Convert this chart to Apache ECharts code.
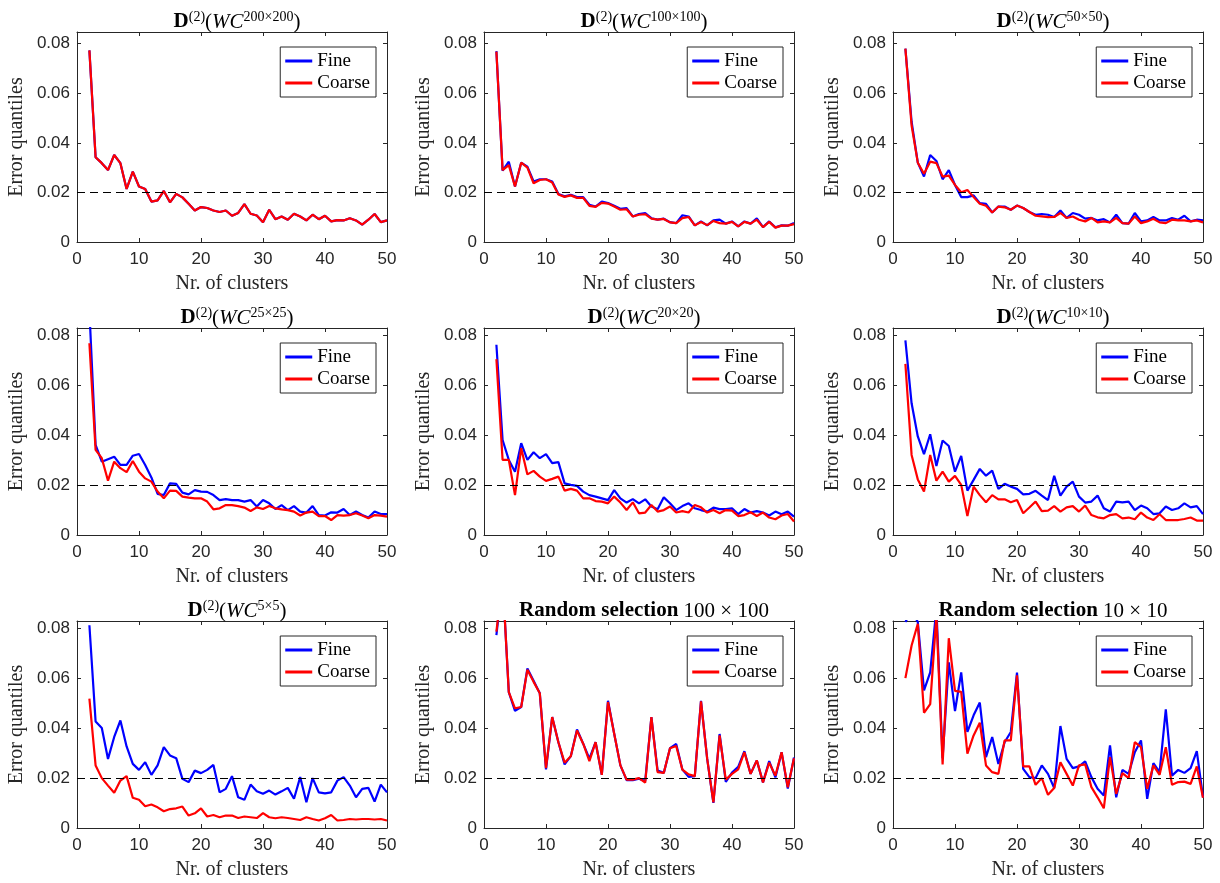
<!DOCTYPE html>
<html lang="en">

<head>
    <meta charset="UTF-8">
    <script src="https://cdn.jsdelivr.net/npm/echarts@6/dist/echarts.min.js"></script>
    <title>Error quantiles</title>
    <style>
        body { margin: 0; background: #fff; }
    </style>
</head>

<body>
    <div id="main" style="width: 1220px; height: 883px;"></div>

    <script>
        // number of clusters
        var clusters = [2, 3, 4, 5, 6, 7, 8, 9, 10, 11, 12, 13, 14, 15, 16, 17, 18, 19, 20, 21, 22, 23, 24, 25, 26,
            27, 28, 29, 30, 31, 32, 33, 34, 35, 36, 37, 38, 39, 40, 41, 42, 43, 44, 45, 46, 47, 48, 49, 50];

        var threshold = 0.0205;

        var wc200Fine = [0.0773, 0.0342, 0.0318, 0.029, 0.0351, 0.0318, 0.0214, 0.0284, 0.0224, 0.0214, 0.0163, 0.0168, 0.0206, 0.016, 0.0194, 0.018, 0.0154, 0.0127, 0.0141, 0.0137, 0.0127, 0.0121, 0.0127, 0.0106, 0.0117, 0.0153, 0.0114, 0.0107, 0.008, 0.013, 0.0092, 0.0103, 0.009, 0.0114, 0.0103, 0.0087, 0.011, 0.0092, 0.0106, 0.0083, 0.0088, 0.0087, 0.0096, 0.0087, 0.007, 0.009, 0.0113, 0.008, 0.0087];
        var wc200Coarse = [0.0773, 0.0342, 0.0318, 0.029, 0.0351, 0.0318, 0.0214, 0.0284, 0.0224, 0.0214, 0.0163, 0.0168, 0.0206, 0.016, 0.0194, 0.018, 0.0154, 0.0127, 0.0141, 0.0137, 0.0127, 0.0121, 0.0127, 0.0106, 0.0117, 0.0153, 0.0114, 0.0107, 0.008, 0.013, 0.0092, 0.0103, 0.009, 0.0114, 0.0103, 0.0087, 0.011, 0.0092, 0.0106, 0.0083, 0.0088, 0.0087, 0.0096, 0.0087, 0.007, 0.009, 0.0113, 0.008, 0.0087];

        var wc100Fine = [0.077, 0.0288, 0.0324, 0.0224, 0.032, 0.0304, 0.0244, 0.0253, 0.0253, 0.0244, 0.0194, 0.0184, 0.019, 0.0181, 0.0181, 0.015, 0.0143, 0.0163, 0.0157, 0.0146, 0.0134, 0.0137, 0.0103, 0.0113, 0.0117, 0.0096, 0.009, 0.0094, 0.008, 0.0076, 0.0108, 0.0103, 0.0067, 0.0083, 0.0067, 0.0087, 0.009, 0.0074, 0.0083, 0.0063, 0.0083, 0.0074, 0.0095, 0.006, 0.0083, 0.0059, 0.0067, 0.0066, 0.0077];
        var wc100Coarse = [0.0768, 0.029, 0.031, 0.0224, 0.032, 0.030, 0.0237, 0.025, 0.0253, 0.024, 0.0192, 0.0182, 0.0188, 0.0178, 0.0178, 0.0146, 0.0142, 0.0158, 0.0155, 0.0143, 0.013, 0.0132, 0.0103, 0.011, 0.0112, 0.0094, 0.009, 0.0093, 0.0079, 0.0076, 0.0096, 0.0101, 0.0067, 0.0081, 0.0068, 0.0085, 0.0076, 0.0074, 0.0081, 0.0063, 0.0081, 0.0074, 0.009, 0.006, 0.0081, 0.0058, 0.0066, 0.0066, 0.0072];

        var wc50Fine = [0.078, 0.0485, 0.032, 0.0264, 0.0351, 0.0327, 0.0253, 0.029, 0.023, 0.0181, 0.0181, 0.0188, 0.0157, 0.0154, 0.0119, 0.0143, 0.0143, 0.013, 0.0147, 0.0137, 0.0121, 0.011, 0.0113, 0.011, 0.0101, 0.0127, 0.0097, 0.0117, 0.011, 0.0094, 0.0097, 0.0087, 0.0092, 0.0079, 0.011, 0.0076, 0.0074, 0.0117, 0.0083, 0.0087, 0.0101, 0.0087, 0.0087, 0.0097, 0.009, 0.0106, 0.0083, 0.009, 0.0087];
        var wc50Coarse = [0.078, 0.047, 0.032, 0.0275, 0.0324, 0.0318, 0.0264, 0.0268, 0.023, 0.0201, 0.021, 0.0181, 0.0154, 0.0146, 0.0119, 0.0143, 0.014, 0.013, 0.0147, 0.0137, 0.0121, 0.0106, 0.0103, 0.01, 0.0101, 0.0117, 0.0097, 0.0103, 0.009, 0.0083, 0.0097, 0.0079, 0.0083, 0.0079, 0.0097, 0.0076, 0.0074, 0.0103, 0.0076, 0.0083, 0.0094, 0.0079, 0.0076, 0.009, 0.0087, 0.0087, 0.0083, 0.0087, 0.0079];

        var wc25Fine = [0.09, 0.0361, 0.0294, 0.0304, 0.0314, 0.0281, 0.0281, 0.0318, 0.0325, 0.0281, 0.0231, 0.0165, 0.016, 0.0207, 0.0205, 0.017, 0.0163, 0.018, 0.0174, 0.0173, 0.016, 0.014, 0.0144, 0.014, 0.014, 0.0134, 0.014, 0.0114, 0.014, 0.0127, 0.0104, 0.012, 0.01, 0.0116, 0.0094, 0.009, 0.0116, 0.008, 0.0078, 0.0091, 0.009, 0.0104, 0.008, 0.0094, 0.008, 0.007, 0.0094, 0.0084, 0.0084];
        var wc25Coarse = [0.0769, 0.0341, 0.0308, 0.0218, 0.0294, 0.0268, 0.0252, 0.0297, 0.0254, 0.0227, 0.0214, 0.0174, 0.0147, 0.0178, 0.0177, 0.0154, 0.015, 0.0147, 0.0147, 0.0134, 0.0103, 0.0107, 0.012, 0.012, 0.0116, 0.011, 0.0096, 0.0111, 0.0104, 0.0116, 0.0107, 0.0103, 0.01, 0.0094, 0.0078, 0.009, 0.0094, 0.0076, 0.0076, 0.006, 0.008, 0.0078, 0.008, 0.0087, 0.0078, 0.0067, 0.008, 0.0078, 0.0074];

        var wc20Fine = [0.0763, 0.0381, 0.0301, 0.0254, 0.0368, 0.0301, 0.0332, 0.0308, 0.0324, 0.0288, 0.0292, 0.0207, 0.0201, 0.0197, 0.0174, 0.016, 0.0154, 0.0147, 0.014, 0.018, 0.0147, 0.013, 0.0144, 0.0127, 0.0143, 0.0114, 0.0103, 0.0151, 0.0127, 0.01, 0.0116, 0.0127, 0.0107, 0.01, 0.0094, 0.011, 0.0104, 0.0104, 0.0107, 0.0084, 0.0104, 0.009, 0.0096, 0.009, 0.0078, 0.0094, 0.0083, 0.0094, 0.0074];
        var wc20Coarse = [0.0705, 0.0301, 0.0301, 0.016, 0.0348, 0.0243, 0.0257, 0.0234, 0.0217, 0.0225, 0.0234, 0.0178, 0.0185, 0.0178, 0.0147, 0.0147, 0.0136, 0.0134, 0.0127, 0.0154, 0.013, 0.01, 0.0131, 0.0087, 0.009, 0.012, 0.0094, 0.01, 0.0114, 0.009, 0.0096, 0.009, 0.012, 0.0111, 0.009, 0.01, 0.0087, 0.01, 0.0098, 0.0076, 0.008, 0.0091, 0.0076, 0.009, 0.007, 0.0063, 0.0078, 0.0084, 0.0054];

        var wc10Fine = [0.078, 0.0528, 0.0395, 0.0324, 0.0404, 0.0277, 0.0379, 0.0357, 0.0254, 0.0317, 0.0178, 0.0221, 0.0265, 0.0238, 0.0258, 0.0185, 0.0205, 0.0194, 0.0185, 0.0163, 0.0165, 0.0177, 0.0158, 0.014, 0.0237, 0.0158, 0.0194, 0.0214, 0.0154, 0.013, 0.0134, 0.0158, 0.0107, 0.0094, 0.0134, 0.0131, 0.0134, 0.01, 0.0118, 0.0107, 0.0084, 0.0087, 0.0114, 0.01, 0.0107, 0.0127, 0.0111, 0.0116, 0.0084];
        var wc10Coarse = [0.0686, 0.0321, 0.0223, 0.0174, 0.0321, 0.0218, 0.0254, 0.0214, 0.0237, 0.0201, 0.0076, 0.0194, 0.016, 0.0131, 0.016, 0.0143, 0.0143, 0.0131, 0.014, 0.0087, 0.011, 0.0134, 0.0096, 0.0098, 0.0116, 0.0094, 0.0111, 0.0116, 0.0094, 0.0118, 0.008, 0.0071, 0.0067, 0.008, 0.0084, 0.0067, 0.007, 0.0063, 0.009, 0.007, 0.006, 0.0083, 0.006, 0.006, 0.006, 0.0064, 0.007, 0.0058, 0.0058];

        var wc5Fine = [0.0813, 0.0427, 0.0401, 0.0277, 0.0365, 0.0431, 0.0327, 0.0257, 0.0233, 0.0264, 0.0213, 0.0251, 0.0324, 0.0291, 0.028, 0.0197, 0.0184, 0.023, 0.022, 0.0233, 0.0253, 0.0143, 0.0157, 0.0208, 0.0123, 0.0113, 0.0174, 0.0147, 0.0137, 0.015, 0.0134, 0.0147, 0.0161, 0.0117, 0.0204, 0.0103, 0.02, 0.0143, 0.0139, 0.0143, 0.019, 0.0204, 0.017, 0.0123, 0.0157, 0.0161, 0.0106, 0.0174, 0.0143];
        var wc5Coarse = [0.0519, 0.0251, 0.02, 0.017, 0.0141, 0.019, 0.0208, 0.0121, 0.0113, 0.0087, 0.0094, 0.0083, 0.0067, 0.0076, 0.0079, 0.0086, 0.005, 0.0059, 0.0079, 0.0046, 0.0052, 0.0043, 0.005, 0.005, 0.004, 0.0046, 0.0043, 0.004, 0.006, 0.0043, 0.0039, 0.0043, 0.004, 0.0036, 0.0032, 0.0043, 0.0036, 0.003, 0.0039, 0.0052, 0.003, 0.0032, 0.0036, 0.0034, 0.0036, 0.0036, 0.0034, 0.0036, 0.003];

        var rand100Fine = [0.0773, 0.1, 0.0545, 0.047, 0.0485, 0.064, 0.059, 0.054, 0.0235, 0.0445, 0.0344, 0.0255, 0.0288, 0.0395, 0.0338, 0.0278, 0.0344, 0.0213, 0.051, 0.0378, 0.0251, 0.0192, 0.0192, 0.0198, 0.0188, 0.0445, 0.023, 0.0221, 0.032, 0.0337, 0.0234, 0.0205, 0.0208, 0.051, 0.0277, 0.0101, 0.0377, 0.0185, 0.0222, 0.0245, 0.0308, 0.0217, 0.0271, 0.0183, 0.0268, 0.0203, 0.0304, 0.0158, 0.0283];
        var rand100Coarse = [0.0787, 0.1, 0.0545, 0.048, 0.0485, 0.0635, 0.0586, 0.054, 0.024, 0.0445, 0.0344, 0.0262, 0.0288, 0.0391, 0.0338, 0.0268, 0.0344, 0.0213, 0.0505, 0.0378, 0.0251, 0.0194, 0.0194, 0.02, 0.0182, 0.0445, 0.0224, 0.0221, 0.032, 0.0329, 0.0234, 0.0215, 0.0208, 0.0508, 0.0277, 0.0103, 0.0371, 0.0194, 0.0217, 0.0235, 0.0304, 0.0217, 0.0271, 0.0183, 0.0262, 0.021, 0.0304, 0.0163, 0.028];

        var rand10Fine = [0.0826, 0.087, 0.0826, 0.0552, 0.0624, 0.088, 0.028, 0.0664, 0.0469, 0.0624, 0.0385, 0.0452, 0.0503, 0.0284, 0.0365, 0.0257, 0.0344, 0.0385, 0.0623, 0.0237, 0.0204, 0.02, 0.0251, 0.0217, 0.016, 0.0409, 0.0277, 0.024, 0.0247, 0.0267, 0.0204, 0.0157, 0.013, 0.0331, 0.0123, 0.0233, 0.0217, 0.0304, 0.0351, 0.0117, 0.026, 0.0224, 0.0476, 0.021, 0.0233, 0.0221, 0.024, 0.0308, 0.0123];
        var rand10Coarse = [0.0601, 0.0732, 0.0819, 0.0462, 0.0497, 0.085, 0.0255, 0.0761, 0.055, 0.0546, 0.0298, 0.0371, 0.0422, 0.0251, 0.0224, 0.0217, 0.0351, 0.0351, 0.0612, 0.0247, 0.0247, 0.0173, 0.02, 0.0133, 0.016, 0.0264, 0.0217, 0.017, 0.0251, 0.0255, 0.0164, 0.0123, 0.0079, 0.0284, 0.0137, 0.022, 0.02, 0.0344, 0.0324, 0.0157, 0.0251, 0.0213, 0.0324, 0.0173, 0.0184, 0.0186, 0.0177, 0.0247, 0.0121];

        var panels = [
            { title: '{b|D}{s|(2)}{n|(}{i|WC}{s|200×200}{n|)}', fine: wc200Fine, coarse: wc200Coarse },
            { title: '{b|D}{s|(2)}{n|(}{i|WC}{s|100×100}{n|)}', fine: wc100Fine, coarse: wc100Coarse },
            { title: '{b|D}{s|(2)}{n|(}{i|WC}{s|50×50}{n|)}', fine: wc50Fine, coarse: wc50Coarse },
            { title: '{b|D}{s|(2)}{n|(}{i|WC}{s|25×25}{n|)}', fine: wc25Fine, coarse: wc25Coarse },
            { title: '{b|D}{s|(2)}{n|(}{i|WC}{s|20×20}{n|)}', fine: wc20Fine, coarse: wc20Coarse },
            { title: '{b|D}{s|(2)}{n|(}{i|WC}{s|10×10}{n|)}', fine: wc10Fine, coarse: wc10Coarse },
            { title: '{b|D}{s|(2)}{n|(}{i|WC}{s|5×5}{n|)}', fine: wc5Fine, coarse: wc5Coarse },
            { title: '{b|Random selection} {n|100 × 100}', fine: rand100Fine, coarse: rand100Coarse },
            { title: '{b|Random selection} {n|10 × 10}', fine: rand10Fine, coarse: rand10Coarse }
        ];

        // layout of the 3x3 grid in pixels
        var colLeft = [77, 484, 893];
        var plotW = 310;
        var rowTop = [32, 328, 621];
        var rowH = [210, 207, 207];
        var rowMax = [0.0847, 0.083, 0.083];

        var serif = '"Liberation Serif", "Times New Roman", serif';
        var sans = '"Liberation Sans", Arial, sans-serif';
        var axisColor = '#262626';

        function pairs(ys) {
            return clusters.map(function (x, i) { return [x, ys[i]]; });
        }

        function yLabel(v) {
            var k = v / 0.02;
            if (Math.abs(k - Math.round(k)) > 1e-6) return '';
            return v === 0 ? '0' : v.toFixed(2);
        }

        var grid = [], xAxis = [], yAxis = [], series = [], title = [], legend = [];

        panels.forEach(function (p, i) {
            var r = Math.floor(i / 3), c = i % 3;
            var left = colLeft[c], top = rowTop[r], h = rowH[r];

            grid.push({ left: left, top: top, width: plotW, height: h, outerBoundsMode: 'none' });

            var tick = { show: true, inside: true, length: 4, lineStyle: { color: axisColor } };
            // onZero off, otherwise the top/right box edges collapse onto the other axis
            var line = { show: true, onZero: false, lineStyle: { color: axisColor, width: 1 } };

            xAxis.push({
                gridIndex: i, type: 'value', min: 0, max: 50, interval: 10, position: 'bottom',
                axisLine: line, axisTick: tick, splitLine: { show: false },
                axisLabel: { color: axisColor, fontSize: 17, fontFamily: sans, margin: 9 },
                name: 'Nr. of clusters', nameLocation: 'middle', nameGap: 32,
                nameTextStyle: { fontFamily: serif, fontSize: 20, color: axisColor }
            });
            xAxis.push({
                gridIndex: i, type: 'value', min: 0, max: 50, interval: 10, position: 'top',
                axisLine: line, axisTick: tick, splitLine: { show: false }, axisLabel: { show: false }
            });
            yAxis.push({
                gridIndex: i, type: 'value', min: 0, max: rowMax[r], interval: 0.02, position: 'left',
                axisLine: line, axisTick: tick, splitLine: { show: false },
                axisLabel: { color: axisColor, fontSize: 17, fontFamily: sans, margin: 7, formatter: yLabel },
                name: 'Error quantiles', nameLocation: 'middle', nameGap: 50, nameRotate: 90,
                nameTextStyle: { fontFamily: serif, fontSize: 20, color: axisColor }
            });
            yAxis.push({
                gridIndex: i, type: 'value', min: 0, max: rowMax[r], interval: 0.02, position: 'right',
                axisLine: line, axisTick: tick, splitLine: { show: false }, axisLabel: { show: false }
            });

            series.push({
                name: 'Fine', type: 'line', xAxisIndex: 2 * i, yAxisIndex: 2 * i,
                data: pairs(p.fine), showSymbol: false, symbol: 'none',
                lineStyle: { color: '#0000ff', width: 2.2 }, itemStyle: { color: '#0000ff' }
            });
            series.push({
                name: 'Coarse', type: 'line', xAxisIndex: 2 * i, yAxisIndex: 2 * i,
                data: pairs(p.coarse), showSymbol: false, symbol: 'none',
                lineStyle: { color: '#ff0000', width: 2.2 }, itemStyle: { color: '#ff0000' },
                markLine: {
                    silent: true, symbol: ['none', 'none'], label: { show: false },
                    lineStyle: { type: [8, 5], color: '#000', width: 1 },
                    data: [{ yAxis: threshold }]
                }
            });

            title.push({
                text: p.title, left: left + plotW / 2, textAlign: 'center', top: top - 27,
                textStyle: {
                    fontWeight: 'normal', fontFamily: serif, fontSize: 21, color: '#000',
                    rich: {
                        b: { fontFamily: serif, fontWeight: 'bold', fontSize: 21, color: '#000', lineHeight: 24 },
                        n: { fontFamily: serif, fontWeight: 'normal', fontSize: 21, color: '#000', lineHeight: 24 },
                        i: { fontFamily: serif, fontWeight: 'normal', fontStyle: 'italic', fontSize: 21, color: '#000', lineHeight: 24 },
                        s: { fontFamily: serif, fontWeight: 'normal', fontSize: 14, color: '#000', verticalAlign: 'top', lineHeight: 14 }
                    }
                }
            });

            legend.push({
                data: ['Fine', 'Coarse'], orient: 'vertical',
                right: 1220 - (left + plotW) + 11, top: top + 15,
                backgroundColor: '#fff', borderColor: axisColor, borderWidth: 1,
                padding: [4, 6, 4, 5], itemGap: 2, itemWidth: 27, itemHeight: 3, icon: 'rect',
                textStyle: { fontFamily: serif, fontSize: 19, color: '#000', lineHeight: 20 },
                selectedMode: false
            });
        });

        var myChart = echarts.init(document.getElementById('main'));
        myChart.setOption({
            animation: false,
            backgroundColor: '#fff',
            title: title,
            legend: legend,
            grid: grid,
            xAxis: xAxis,
            yAxis: yAxis,
            series: series
        });
    </script>
</body>

</html>
